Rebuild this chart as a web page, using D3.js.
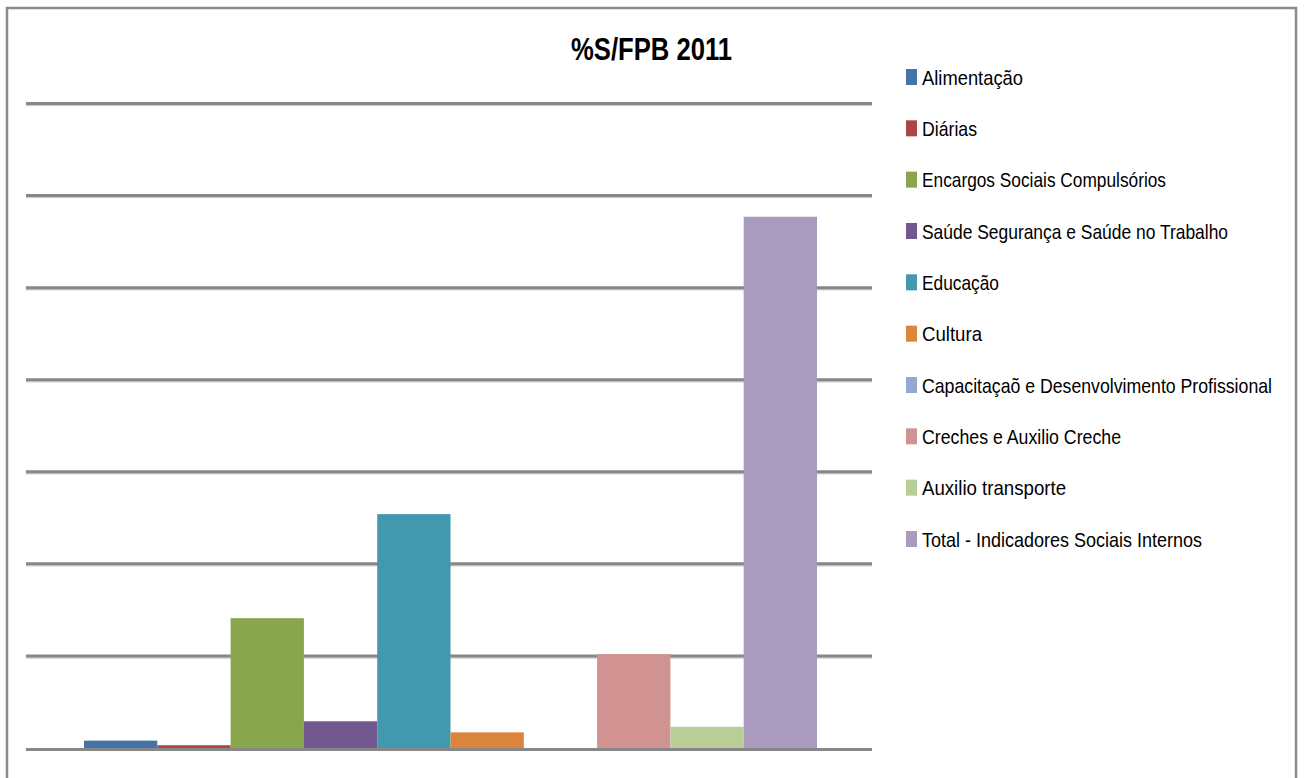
<!DOCTYPE html>
<html>
<head>
<meta charset="utf-8">
<script src="https://cdn.jsdelivr.net/npm/d3@7"></script>
<style>
  html, body { margin: 0; padding: 0; background: #fff; }
  svg { display: block; }
</style>
</head>
<body>
<svg id="chart" width="1304" height="778"></svg>
<script>
// ---- Data ----
const title = "%S/FPB 2011";
const category = ["2011"];
const seriesNames = [
  "Alimentação",
  "Diárias",
  "Encargos Sociais Compulsórios",
  "Saúde Segurança e Saúde no Trabalho",
  "Educação",
  "Cultura",
  "Capacitaçaõ e Desenvolvimento Profissional",
  "Creches e Auxilio Creche",
  "Auxilio transporte",
  "Total - Indicadores Sociais Internos"
];
const seriesValues = [0.08, 0.03, 1.41, 0.29, 2.54, 0.17, 0, 1.02, 0.23, 5.77];
const seriesColors = ["#4572A7", "#AA4643", "#89A54E", "#71588F", "#4198AF",
                      "#DB843D", "#93A9CF", "#D19392", "#B9CD96", "#A99BBD"];
const yTicks = [0, 1, 2, 3, 4, 5, 6, 7];
// legend label widths measured from reference (for narrow font fitting)
const legendWidths = [101, 55, 244, 306, 77, 60, 350, 199, 144, 280];

// ---- Layout ----
const svg = d3.select("#chart");
const plot = { left: 26, right: 872, top: 103.5, bottom: 748 };
const barsSpan = [84, 817];

// border
svg.append("rect")
  .attr("x", 7).attr("y", 8).attr("width", 1289).attr("height", 780)
  .attr("fill", "none").attr("stroke", "#8c8c8c").attr("stroke-width", 2.5);

const y = d3.scaleLinear().domain([0, 7]).range([plot.bottom, plot.top]);
const x0 = d3.scaleBand().domain(category).range(barsSpan).padding(0);
const x1 = d3.scaleBand().domain(seriesNames).range([0, x0.bandwidth()]).padding(0);

// gridlines
const grid = svg.append("g");
grid.selectAll("line.shadow").data(yTicks).join("line")
  .attr("class", "shadow")
  .attr("x1", plot.left).attr("x2", plot.right)
  .attr("y1", d => y(d) + 2).attr("y2", d => y(d) + 2)
  .attr("stroke", "#cfcfcf").attr("stroke-width", 1.5);
grid.selectAll("line.main").data(yTicks.filter(d => d > 0)).join("line")
  .attr("class", "main")
  .attr("x1", plot.left).attr("x2", plot.right)
  .attr("y1", d => y(d)).attr("y2", d => y(d))
  .attr("stroke", "#878787").attr("stroke-width", 3);

// bars
const gCat = svg.append("g").selectAll("g").data(category).join("g")
  .attr("transform", d => `translate(${x0(d)},0)`);
gCat.selectAll("rect").data(seriesNames.map((n, i) => ({ n, v: seriesValues[i], c: seriesColors[i] })))
  .join("rect")
  .attr("x", d => x1(d.n))
  .attr("y", d => y(d.v))
  .attr("width", x1.bandwidth())
  .attr("height", d => y(0) - y(d.v))
  .attr("fill", d => d.c);

// baseline axis
svg.append("line")
  .attr("x1", plot.left).attr("x2", plot.right)
  .attr("y1", y(0) + 1.5).attr("y2", y(0) + 1.5)
  .attr("stroke", "#878787").attr("stroke-width", 3);

// title
svg.append("text")
  .attr("x", 571).attr("y", 60)
  .attr("font-family", "'Liberation Sans', Arial, sans-serif")
  .attr("font-weight", "bold")
  .attr("font-size", 31)
  .attr("textLength", 161).attr("lengthAdjust", "spacingAndGlyphs")
  .attr("fill", "#000")
  .text(title);

// legend
const legend = svg.append("g");
const rowY = d3.scaleLinear().domain([0, 9]).range([77, 539]);
const items = legend.selectAll("g").data(seriesNames).join("g")
  .attr("transform", (d, i) => `translate(0,${rowY(i)})`);
items.append("rect")
  .attr("x", 906).attr("y", -8).attr("width", 11).attr("height", 16)
  .attr("fill", (d, i) => seriesColors[i]);
items.append("text")
  .attr("transform", "translate(922,7.5) scale(1,1.15)")
  .attr("font-family", "'Liberation Sans Narrow', 'Liberation Sans', Arial, sans-serif")
  .attr("font-size", 18)
  .attr("textLength", (d, i) => legendWidths[i]).attr("lengthAdjust", "spacingAndGlyphs")
  .attr("fill", "#000")
  .text(d => d);
</script>
</body>
</html>
